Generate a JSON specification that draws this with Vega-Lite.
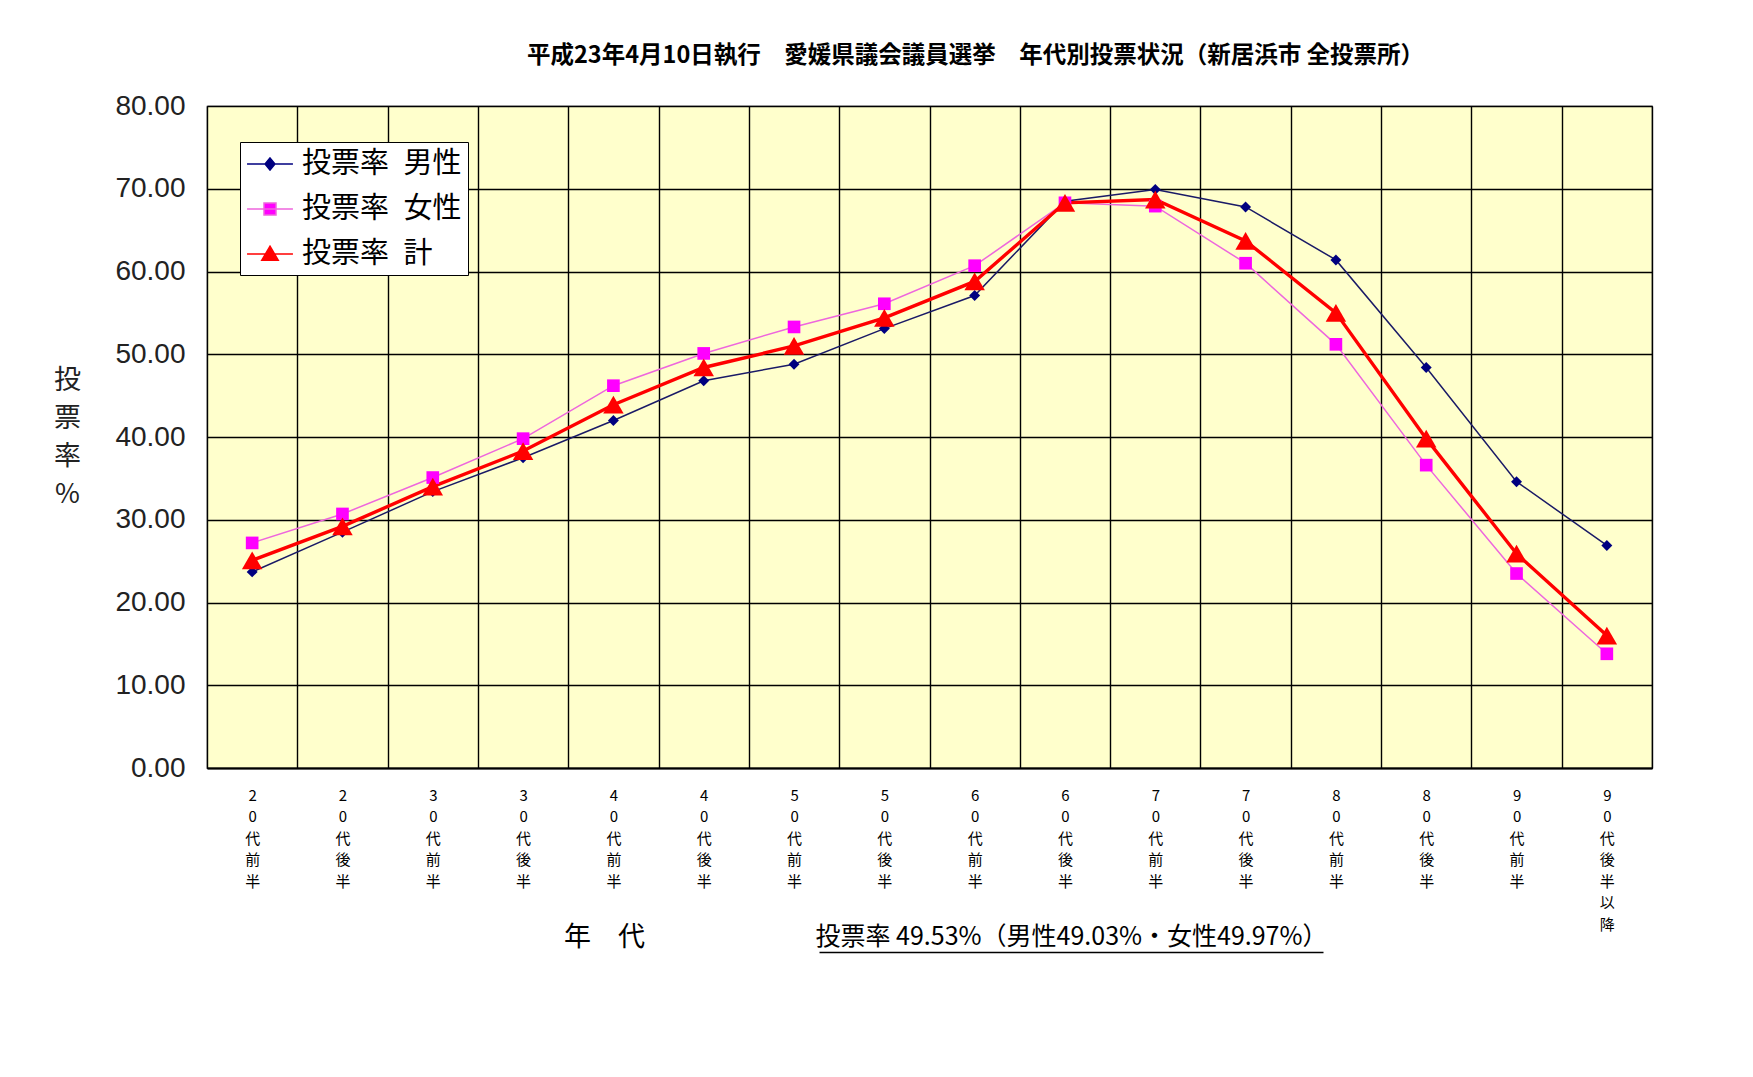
{
  "$schema": "https://vega.github.io/schema/vega-lite/v6.json",
  "width": 1445,
  "height": 662,
  "autosize": {"type": "none"},
  "padding": {"left": 207, "top": 106, "right": 101, "bottom": 309},
  "background": "white",
  "title": {
    "text": "平成23年4月10日執行　愛媛県議会議員選挙　年代別投票状況（新居浜市 全投票所）",
    "font": "Noto Sans CJK JP",
    "fontSize": 23.5,
    "fontWeight": "bold",
    "color": "#000",
    "anchor": "middle",
    "dx": 46,
    "offset": 25
  },
  "config": {
    "view": {"fill": "#FFFFCC", "stroke": "#333", "strokeWidth": 1.2},
    "axis": {"gridColor": "#000", "gridOpacity": 1, "gridWidth": 1.4}
  },
  "data": {
    "values": [
      {"age": "20代前半", "series": "投票率 男性", "value": 23.7},
      {"age": "20代後半", "series": "投票率 男性", "value": 28.5},
      {"age": "30代前半", "series": "投票率 男性", "value": 33.4},
      {"age": "30代後半", "series": "投票率 男性", "value": 37.5},
      {"age": "40代前半", "series": "投票率 男性", "value": 42.0},
      {"age": "40代後半", "series": "投票率 男性", "value": 46.8},
      {"age": "50代前半", "series": "投票率 男性", "value": 48.8},
      {"age": "50代後半", "series": "投票率 男性", "value": 53.1},
      {"age": "60代前半", "series": "投票率 男性", "value": 57.1},
      {"age": "60代後半", "series": "投票率 男性", "value": 68.5},
      {"age": "70代前半", "series": "投票率 男性", "value": 69.9},
      {"age": "70代後半", "series": "投票率 男性", "value": 67.8},
      {"age": "80代前半", "series": "投票率 男性", "value": 61.4},
      {"age": "80代後半", "series": "投票率 男性", "value": 48.4},
      {"age": "90代前半", "series": "投票率 男性", "value": 34.6},
      {"age": "90代後半以降", "series": "投票率 男性", "value": 26.9},
      {"age": "20代前半", "series": "投票率 女性", "value": 27.2},
      {"age": "20代後半", "series": "投票率 女性", "value": 30.7},
      {"age": "30代前半", "series": "投票率 女性", "value": 35.1},
      {"age": "30代後半", "series": "投票率 女性", "value": 39.8},
      {"age": "40代前半", "series": "投票率 女性", "value": 46.2},
      {"age": "40代後半", "series": "投票率 女性", "value": 50.1},
      {"age": "50代前半", "series": "投票率 女性", "value": 53.3},
      {"age": "50代後半", "series": "投票率 女性", "value": 56.1},
      {"age": "60代前半", "series": "投票率 女性", "value": 60.7},
      {"age": "60代後半", "series": "投票率 女性", "value": 68.3},
      {"age": "70代前半", "series": "投票率 女性", "value": 67.9},
      {"age": "70代後半", "series": "投票率 女性", "value": 61.0},
      {"age": "80代前半", "series": "投票率 女性", "value": 51.2},
      {"age": "80代後半", "series": "投票率 女性", "value": 36.6},
      {"age": "90代前半", "series": "投票率 女性", "value": 23.5},
      {"age": "90代後半以降", "series": "投票率 女性", "value": 13.8},
      {"age": "20代前半", "series": "投票率 計", "value": 25.1},
      {"age": "20代後半", "series": "投票率 計", "value": 29.2},
      {"age": "30代前半", "series": "投票率 計", "value": 34.0},
      {"age": "30代後半", "series": "投票率 計", "value": 38.3},
      {"age": "40代前半", "series": "投票率 計", "value": 43.9},
      {"age": "40代後半", "series": "投票率 計", "value": 48.4},
      {"age": "50代前半", "series": "投票率 計", "value": 51.0},
      {"age": "50代後半", "series": "投票率 計", "value": 54.4},
      {"age": "60代前半", "series": "投票率 計", "value": 58.8},
      {"age": "60代後半", "series": "投票率 計", "value": 68.3},
      {"age": "70代前半", "series": "投票率 計", "value": 68.7},
      {"age": "70代後半", "series": "投票率 計", "value": 63.7},
      {"age": "80代前半", "series": "投票率 計", "value": 55.0},
      {"age": "80代後半", "series": "投票率 計", "value": 39.8},
      {"age": "90代前半", "series": "投票率 計", "value": 25.9},
      {"age": "90代後半以降", "series": "投票率 計", "value": 16.0}
    ]
  },
  "layer": [
    {
      "encoding": {
        "x": {
          "field": "age",
          "type": "nominal",
          "sort": null,
          "scale": {"type": "band", "paddingInner": 0, "paddingOuter": 0},
          "axis": {
            "orient": "bottom",
            "tickBand": "extent",
            "grid": true,
            "ticks": false,
            "domain": true,
            "domainColor": "#000",
            "domainWidth": 2,
            "labelAngle": 0,
            "labelExpr": "split(datum.label, '')",
            "labelFont": "Noto Sans CJK JP",
            "labelFontSize": 15,
            "labelLineHeight": 21.5,
            "labelColor": "#000",
            "labelBaseline": "top",
            "labelPadding": 20,
            "labelOverlap": false,
            "title": "年　代",
            "titleFont": "Noto Sans CJK JP",
            "titleFontSize": 27,
            "titleFontWeight": "normal",
            "titleColor": "#000",
            "titleX": 397,
            "titleY": 169,
            "titleAlign": "center",
            "titleBaseline": "middle"
          }
        },
        "y": {
          "field": "value",
          "type": "quantitative",
          "scale": {"domain": [0, 80], "nice": false},
          "axis": {
            "values": [0, 10, 20, 30, 40, 50, 60, 70, 80],
            "format": ".2f",
            "grid": true,
            "ticks": false,
            "domain": false,
            "labelFont": "Liberation Sans",
            "labelFontSize": 28,
            "labelColor": "#222",
            "labelPadding": 22,
            "title": ["投", "票", "率", "%"],
            "titleFont": "Noto Sans CJK JP",
            "titleFontSize": 27,
            "titleFontWeight": "normal",
            "titleColor": "#222",
            "titleAngle": 0,
            "titleLineHeight": 38,
            "titleX": -140,
            "titleY": 274,
            "titleAlign": "center",
            "titleBaseline": "middle"
          }
        }
      },
      "layer": [
        {
          "transform": [{"filter": "datum.series == '投票率 男性'"}],
          "mark": {"type": "line", "color": "#1a1a66", "strokeWidth": 1.5}
        },
        {
          "transform": [{"filter": "datum.series == '投票率 女性'"}],
          "mark": {"type": "line", "color": "#EE66DD", "strokeWidth": 1.5}
        },
        {
          "transform": [{"filter": "datum.series == '投票率 計'"}],
          "mark": {"type": "line", "color": "#FF0000", "strokeWidth": 3.4}
        },
        {
          "transform": [{"filter": "datum.series == '投票率 男性'"}],
          "mark": {"type": "point", "shape": "diamond", "size": 120, "filled": true, "opacity": 1, "color": "#000080"}
        },
        {
          "transform": [{"filter": "datum.series == '投票率 女性'"}],
          "mark": {"type": "point", "shape": "square", "size": 160, "filled": true, "opacity": 1, "color": "#FF00FF"}
        },
        {
          "transform": [{"filter": "datum.series == '投票率 計'"}],
          "mark": {"type": "point", "shape": "triangle-up", "size": 420, "filled": true, "opacity": 1, "color": "#FF0000"}
        },
        {
          "transform": [{"filter": "datum.value < 0"}],
          "mark": {"type": "point", "filled": true, "opacity": 1},
          "encoding": {
            "color": {
              "field": "series",
              "type": "nominal",
              "scale": {
                "domain": ["投票率 男性", "投票率 女性", "投票率 計"],
                "range": ["#000080", "#FF00FF", "#FF0000"]
              },
              "legend": {
                "orient": "none",
                "legendX": 33,
                "legendY": 36,
                "title": null,
                "fillColor": "#FFFFFF",
                "strokeColor": "#000",
                "padding": 6,
                "labelFont": "Noto Sans CJK JP",
                "labelFontSize": 29,
                "labelColor": "#000",
                "labelExpr": "replace(datum.label, ' ', '\u2002')",
                "labelOffset": 16,
                "symbolOffset": 8,
                "symbolSize": 900,
                "symbolOpacity": 1,
                "rowPadding": 14
              }
            },
            "stroke": {
              "field": "series",
              "type": "nominal",
              "scale": {
                "domain": ["投票率 男性", "投票率 女性", "投票率 計"],
                "range": ["#000080", "#EE66DD", "#FF0000"]
              },
              "legend": {"title": null}
            },
            "shape": {
              "field": "series",
              "type": "nominal",
              "scale": {
                "domain": ["投票率 男性", "投票率 女性", "投票率 計"],
                "range": [
                  "M-1.53,0H1.53M0,-0.4L0.33,0L0,0.4L-0.33,0Z",
                  "M-1.53,0H1.53M-0.4,-0.4H0.4V0.4H-0.4Z",
                  "M-1.53,0H1.53M0,-0.52L0.55,0.42H-0.55Z"
                ]
              },
              "legend": {"title": null}
            },
            "strokeWidth": {
              "field": "series",
              "type": "ordinal",
              "scale": {
                "domain": ["投票率 男性", "投票率 女性", "投票率 計"],
                "range": [1.5, 1.5, 3.4]
              },
              "legend": {"title": null}
            }
          }
        }
      ]
    },
    {
      "mark": {"type": "point", "opacity": 0},
      "encoding": {
        "x": {
          "field": "age",
          "type": "nominal",
          "sort": null,
          "scale": {"type": "point", "range": [612, 1116], "padding": 0},
          "axis": {
            "orient": "bottom",
            "offset": 184,
            "labels": false,
            "ticks": false,
            "grid": false,
            "domain": true,
            "domainColor": "#000",
            "domainWidth": 1.5,
            "title": "投票率 49.53%（男性49.03%・女性49.97%）",
            "titleFont": "Noto Sans CJK JP",
            "titleFontSize": 25,
            "titleFontWeight": "normal",
            "titleColor": "#000",
            "titleX": 864,
            "titleY": -3,
            "titleAlign": "center",
            "titleBaseline": "bottom"
          }
        },
        "y": {"field": "value", "type": "quantitative"}
      }
    }
  ],
  "resolve": {"scale": {"x": "independent"}, "axis": {"x": "independent"}}
}
